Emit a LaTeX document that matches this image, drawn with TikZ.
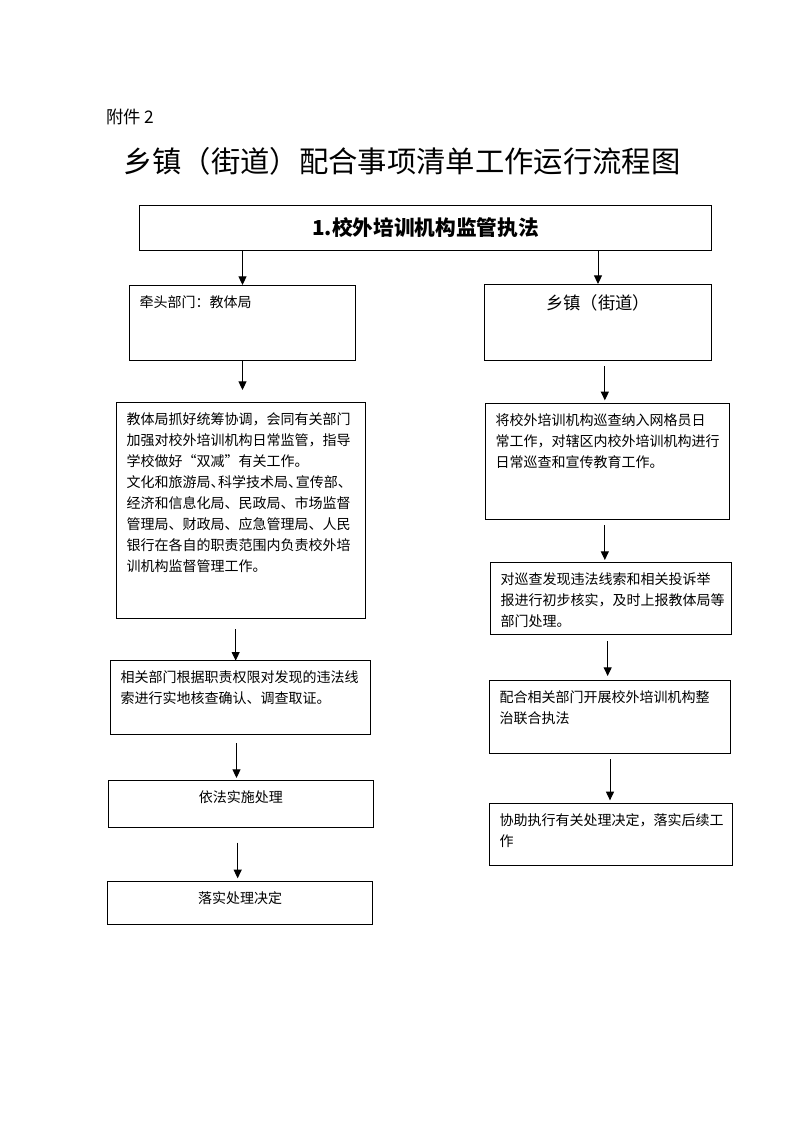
\documentclass[tikz,border=0pt]{standalone}
\usepackage{fontspec}
\setmainfont{Noto Sans CJK SC}
\usetikzlibrary{arrows.meta, positioning}

\newlength\pxu
\setlength\pxu{0.75pt}
% fixed-size text block inside a box (width and height in px)
\newcommand\boxtext[3]{\parbox[t][\dimexpr#2\pxu-15pt\relax][t]{\dimexpr#1\pxu-15pt\relax}{#3}}
\newcommand\dun{\makebox[0.55em][l]{、}}
\hfuzz=6pt

\begin{document}
\begin{tikzpicture}[
    x=0.75pt, y=-0.75pt,
    >={Triangle[width=6pt,length=6.5pt]},
    flowbox/.style={draw, line width=0.75pt, anchor=north west, inner xsep=7.5pt, inner ysep=7.5pt,
                    font=\fontsize{10.5pt}{15.75pt}\selectfont},
    flowarrow/.style={->, line width=0.75pt}
]
    \useasboundingbox (0,0) rectangle (793,1122);

    % --- HEADINGS ---
    \node[anchor=west, inner sep=0pt, font=\fontsize{13pt}{13pt}\selectfont] (annex) at (106,117) {附件 2};
    \node[anchor=west, inner sep=0pt, font=\fontsize{22pt}{22pt}\selectfont] (title) at (123,161) {乡镇（街道）配合事项清单工作运行流程图};

    \node[draw, line width=0.75pt, anchor=north west, minimum width=429pt, minimum height=33.75pt, inner sep=0pt,
          font=\bfseries\fontsize{15.5pt}{15.5pt}\selectfont] (head) at (139,205) {1.校外培训机构监管执法};

    % --- LEFT COLUMN ---
    \node[flowbox] (lead) at (129,285) {\boxtext{226}{75}{\raggedright 牵头部门：教体局}};
    \node[flowbox] (coord) at (116,402) {\boxtext{249}{216}{\raggedright
        教体局抓好统筹协调，会同有关部门\\加强对校外培训机构日常监管，指导\\学校做好“双减”有关工作。\\
        文化和旅游局\dun 科学技术局\dun 宣传部\dun\\经济和信息化局、民政局、市场监督\\管理局、财政局、应急管理局、人民\\
        银行在各自的职责范围内负责校外培\\训机构监督管理工作。}};
    \node[flowbox] (verify) at (110,660) {\boxtext{260}{74}{\raggedright
        相关部门根据职责权限对发现的违法线\\索进行实地核查确认、调查取证。}};
    \node[flowbox] (handle) at (108,780) {\boxtext{265}{47}{\centering 依法实施处理}};
    \node[flowbox] (execute) at (107,881) {\boxtext{265}{43}{\centering 落实处理决定}};

    % --- RIGHT COLUMN ---
    \node[flowbox, font=\fontsize{13pt}{15pt}\selectfont] (town) at (484,284) {\boxtext{227}{76}{\centering 乡镇（街道）}};
    \node[flowbox] (patrol) at (485,403) {\boxtext{244}{116}{\raggedright
        将校外培训机构巡查纳入网格员日\\常工作，对辖区内校外培训机构进行\\日常巡查和宣传教育工作。}};
    \node[flowbox] (report) at (490,562) {\boxtext{241}{72}{\raggedright
        对巡查发现违法线索和相关投诉举\\报进行初步核实，及时上报教体局等\\部门处理。}};
    \node[flowbox] (joint) at (489,680) {\boxtext{241}{73}{\raggedright
        配合相关部门开展校外培训机构整\\治联合执法}};
    \node[flowbox] (assist) at (489,803) {\boxtext{243}{62}{\raggedright
        协助执行有关处理决定，落实后续工\\作}};

    % --- ARROWS ---
    \draw[flowarrow] (lead.north |- head.south) -- (lead.north);
    \draw[flowarrow] (town.north |- head.south) -- (town.north);

    \draw[flowarrow, shorten >=9pt] (lead.south) -- (lead.south |- coord.north);
    \draw[flowarrow, shorten <=7.5pt, shorten >=-0.5pt] ([xshift=-4pt]coord.south) -- ([xshift=-4pt]coord.south |- verify.north);
    \draw[flowarrow, shorten <=6pt, shorten >=1.5pt] ([xshift=-3pt]verify.south) -- ([xshift=-3pt]verify.south |- handle.north);
    \draw[flowarrow, shorten <=11pt, shorten >=2pt] ([xshift=-2.5pt]handle.south) -- ([xshift=-2.5pt]handle.south |- execute.north);

    \draw[flowarrow, shorten <=4pt, shorten >=2pt] ([xshift=-2pt]patrol.north |- town.south) -- ([xshift=-2pt]patrol.north);
    \draw[flowarrow, shorten <=4pt, shorten >=1.5pt] ([xshift=-2pt]patrol.south) -- ([xshift=-2pt]patrol.south |- report.north);
    \draw[flowarrow, shorten <=4.5pt, shorten >=3pt] ([xshift=-2.5pt]report.south) -- ([xshift=-2.5pt]report.south |- joint.north);
    \draw[flowarrow, shorten <=4pt, shorten >=2pt] (joint.south) -- (joint.south |- assist.north);
\end{tikzpicture}
\end{document}
